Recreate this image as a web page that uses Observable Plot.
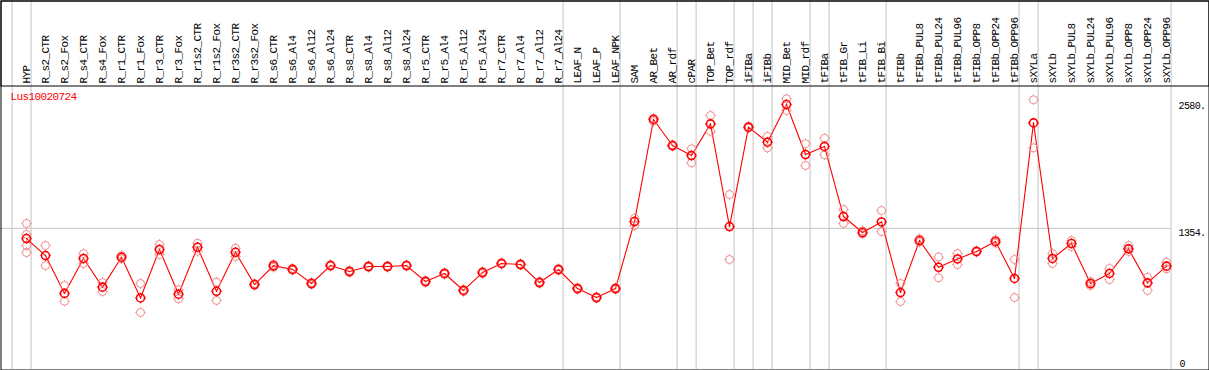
<!DOCTYPE html>
<html>
<head>
<meta charset="utf-8">
<script src="https://cdn.jsdelivr.net/npm/d3@7"></script>
<script src="https://cdn.jsdelivr.net/npm/@observablehq/plot@0.6"></script>
<style>
  html, body { margin: 0; padding: 0; background: white; }
  #chart svg { display: block; }
</style>
</head>
<body>
<div id="chart"></div>
<script>
const title = "Lus10020724";

const categories = [
  "HYP","R_s2_CTR","R_s2_Fox","R_s4_CTR","R_s4_Fox","R_r1_CTR","R_r1_Fox","R_r3_CTR","R_r3_Fox",
  "R_r1s2_CTR","R_r1s2_Fox","R_r3s2_CTR","R_r3s2_Fox","R_s6_CTR","R_s6_Al4","R_s6_Al12","R_s6_Al24",
  "R_s8_CTR","R_s8_Al4","R_s8_Al12","R_s8_Al24","R_r5_CTR","R_r5_Al4","R_r5_Al12","R_r5_Al24",
  "R_r7_CTR","R_r7_Al4","R_r7_Al12","R_r7_Al24","LEAF_N","LEAF_P","LEAF_NPK","SAM","AR_Bet","AR_rdf",
  "cPAR","TOP_Bet","TOP_rdf","iFIBa","iFIBb","MID_Bet","MID_rdf","tFIBa","tFIB_Gr","tFIB_Li","tFIB_Bi",
  "tFIBb","tFIBb_PUL8","tFIBb_PUL24","tFIBb_PUL96","tFIBb_OPP8","tFIBb_OPP24","tFIBb_OPP96",
  "sXYLa","sXYLb","sXYLb_PUL8","sXYLb_PUL24","sXYLb_PUL96","sXYLb_OPP8","sXYLb_OPP24","sXYLb_OPP96"
];

const means = [
  1256,1093,730,1065,790,1077,686,1151,722,
  1173,750,1124,815,995,960,825,997,
  940,988,988,997,844,921,758,930,
  1017,1007,834,959,776,690,776,1419,2398,2148,
  2052,2356,1371,2324,2180,2541,2062,2139,1467,1314,1415,
  738,1237,980,1060,1132,1228,873,
  2365,1065,1208,825,921,1157,831,991
];

const replicates = [
  [1400,1295,1189,1122],[1189,997],[806,655],[1112,1017],[834,748],[1093,1061],[825,547],[1199,1103],[765,678],
  [1211,1135],[837,662],[1163,1084],[825,806],[1010,980],[970,950],[835,815],[1005,990],
  [950,930],[995,980],[995,980],[1005,990],[855,835],[930,912],[768,748],[940,920],
  [1025,1010],[1015,1000],[845,825],[968,950],[785,768],[698,682],[785,768],[1450,1380],[2410,2380],[2155,2140],
  [2117,1982],[2436,2283],[1678,1055],[2335,2315],[2235,2126],[2596,2484],[2165,1957],[2218,2059],[1534,1400],[1330,1300],[1525,1323],
  [825,652],[1255,1220],[1080,880],[1112,1007],[1140,1125],[1245,1210],[1055,690],
  [2587,2126],[1112,1017],[1237,1180],[844,806],[969,863],[1189,1132],[885,758],[1029,966]
];

// index of the last category in each group (-1 = before the first)
const groupEnds = [-1, 0, 28, 31, 34, 35, 37, 38, 39, 41, 42, 45, 52, 53, 60];

const yTicks = [1354, 2580];
const yZero = [0];

const meanData = categories.map((c, i) => ({i, c, v: means[i]}));
const repData = replicates.flatMap((arr, i) => arr.map(v => ({i, v})));

// circle with four short outer ticks
const ringTick = {
  draw(ctx, size) {
    const r = Math.sqrt(size / Math.PI);
    ctx.moveTo(r, 0);
    ctx.arc(0, 0, r, 0, 2 * Math.PI);
    const t = 1.2;
    ctx.moveTo(r, 0); ctx.lineTo(r + t, 0);
    ctx.moveTo(-r, 0); ctx.lineTo(-r - t, 0);
    ctx.moveTo(0, r); ctx.lineTo(0, r + t);
    ctx.moveTo(0, -r); ctx.lineTo(0, -r - t);
  }
};

const mono = "'Liberation Mono', 'DejaVu Sans Mono', monospace";

const chart = Plot.plot({
  width: 1209,
  height: 370,
  marginTop: 0,
  marginLeft: 0,
  marginRight: 38,
  marginBottom: 1,
  x: {domain: [0, 60], range: [26, 1166], axis: null},
  y: {domain: [0, 2580], range: [369, 100], axis: null},
  style: {fontFamily: mono, fontSize: "11px", letterSpacing: "-0.6px", background: "white", color: "black"},
  marks: [
    Plot.ruleY([1354], {stroke: "#c4c4c4", strokeWidth: 1}),
    Plot.ruleX(groupEnds, {x: d => d, dx: 4.6, stroke: "#c4c4c4", strokeWidth: 1}),
    Plot.frame({stroke: "black", insetLeft: 0.5, insetTop: 0.5, insetRight: -37.5, insetBottom: -0.5}),
    Plot.frame({stroke: "black", insetLeft: 0.5, insetTop: 0.5, insetRight: -37.5, insetBottom: 283.5}),
    Plot.text(categories, {
      x: (d, i) => i, text: d => d, frameAnchor: "top", dy: 83,
      rotate: -90, textAnchor: "start", lineAnchor: "middle", fill: "black", fontSize: 11
    }),
    Plot.text([title], {
      frameAnchor: "top-left", text: d => d, dx: 10, dy: 92, textAnchor: "start",
      lineAnchor: "top", fill: "red", fontSize: 11
    }),
    Plot.text(yTicks, {
      y: d => d, text: d => d + ".", frameAnchor: "right", dx: 7, textAnchor: "start",
      lineAnchor: "top", dy: 1, fill: "black", fontSize: 10
    }),
    Plot.text(yZero, {
      y: d => d, text: d => String(d), frameAnchor: "right", dx: 8, textAnchor: "start",
      lineAnchor: "bottom", dy: -3, fill: "black", fontSize: 10
    }),
    Plot.line(meanData, {x: "i", y: "v", stroke: "red", strokeWidth: 1.1}),
    Plot.dot(repData, {x: "i", y: "v", r: 4, symbol: ringTick, stroke: "#f08c8c", strokeWidth: 1, fill: "none"}),
    Plot.dot(meanData, {x: "i", y: "v", r: 4, symbol: ringTick, stroke: "red", strokeWidth: 1.6, fill: "none"}),
    Plot.dot(meanData, {x: "i", y: "v", r: 0.7, fill: "red", stroke: "none"})
  ]
});

document.getElementById("chart").appendChild(chart);
</script>
</body>
</html>
